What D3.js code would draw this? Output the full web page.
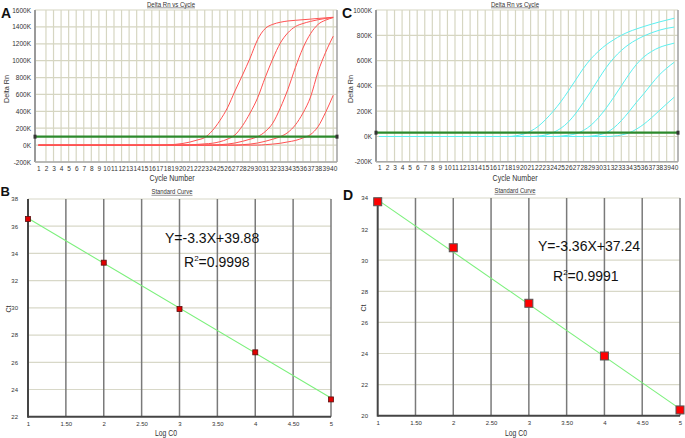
<!DOCTYPE html>
<html><head><meta charset="utf-8">
<script src="https://cdn.jsdelivr.net/npm/d3@7"></script>
<style>body{margin:0;background:#fff}svg{display:block}text{font-family:Arial,"Liberation Sans",sans-serif}</style>
</head><body><svg id="c" width="685" height="438"></svg>
<script>
// ---------- DATA ----------
const cycles = d3.range(1, 41);
const ampA_yTicks = [-200, 0, 200, 400, 600, 800, 1000, 1200, 1400, 1600];
const ampC_yTicks = [-200, 0, 200, 400, 600, 800, 1000];
const ampA_threshold = 100;
const ampC_threshold = 30;
// Panel A: Delta Rn (K) per cycle 1..40
const ampA_s1 = [0,0,0,0,0,0,0,0,0,0,0,0,0,0,0,0,0,3,8,18,35,60,90,170,290,440,640,830,1030,1250,1380,1430,1455,1470,1478,1485,1492,1500,1507,1514];
const ampA_s2 = [0,0,0,0,0,0,0,0,0,0,0,0,0,0,0,0,0,0,0,0,3,8,15,22,40,70,120,230,380,560,800,1020,1208,1330,1404,1440,1465,1485,1500,1512];
const ampA_s3 = [0,0,0,0,0,0,0,0,0,0,0,0,0,0,0,0,0,0,0,0,0,0,0,0,5,12,25,45,70,100,160,260,440,660,920,1150,1320,1430,1480,1510];
const ampA_s4 = [0,0,0,0,0,0,0,0,0,0,0,0,0,0,0,0,0,0,0,0,0,0,0,0,0,0,0,5,12,25,45,70,100,150,240,380,570,870,1100,1290];
const ampA_s5 = [0,0,0,0,0,0,0,0,0,0,0,0,0,0,0,0,0,0,0,0,0,0,0,0,0,0,0,0,0,0,5,12,22,38,55,85,125,220,390,590];
// Panel C
const ampC_s1 = [0,0,0,0,0,0,0,0,0,0,0,0,0,0,0,0,0,0,5,18,42,80,135,200,275,360,450,540,615,675,725,765,800,828,850,870,888,905,920,935];
const ampC_s2 = [0,0,0,0,0,0,0,0,0,0,0,0,0,0,0,0,0,0,0,0,0,3,12,32,65,115,185,270,360,455,545,620,680,728,765,795,820,840,855,865];
const ampC_s3 = [0,0,0,0,0,0,0,0,0,0,0,0,0,0,0,0,0,0,0,0,0,0,0,0,3,10,22,48,90,150,225,310,400,490,570,630,672,703,723,738];
const ampC_s4 = [0,0,0,0,0,0,0,0,0,0,0,0,0,0,0,0,0,0,0,0,0,0,0,0,0,0,0,0,3,12,30,68,125,195,270,340,415,485,540,587];
const ampC_s5 = [0,0,0,0,0,0,0,0,0,0,0,0,0,0,0,0,0,0,0,0,0,0,0,0,0,0,0,0,0,0,0,3,12,28,58,98,148,203,258,311];
// Standard curves
const stdX = [1, 2, 3, 4, 5];
const stdB_ct = [36.53, 33.32, 29.91, 26.73, 23.27];
const stdD_ct = [33.76, 30.80, 27.23, 23.84, 20.37];
const stdB_slope = -3.3, stdB_intercept = 39.88;
const stdD_slope = -3.36, stdD_intercept = 37.24;
const stdXTicks = [1, 1.5, 2, 2.5, 3, 3.5, 4, 4.5, 5];
const stdXTickLabels = ["1", "1.50", "2", "2.50", "3", "3.50", "4", "4.50", "5"];
const stdB_yTicks = [22, 24, 26, 28, 30, 32, 34, 36, 38];
const stdD_yTicks = [20, 22, 24, 26, 28, 30, 32, 34];

const svg = d3.select('#c');
const FONT = 'Arial,"Liberation Sans",sans-serif';

function label(txt, x, y, size, opts = {}) {
  const t = svg.append('text').attr('x', x).attr('y', y).attr('font-size', size)
    .attr('fill', opts.fill || '#222').attr('text-anchor', opts.anchor || 'middle').text(txt);
  if (opts.bold) t.attr('font-weight', 'bold');
  if (opts.len) t.attr('textLength', opts.len).attr('lengthAdjust', 'spacingAndGlyphs');
  if (opts.rotate) t.attr('transform', `rotate(-90,${x},${y})`);
  return t;
}

function amp(cfg) {
  const x = d3.scaleLinear().domain([0.55, 40.5]).range([cfg.l, cfg.r]);
  const y = d3.scaleLinear().domain([cfg.ymin, cfg.ymax]).range([cfg.b, cfg.t]);
  const g = svg.append('g');
  g.selectAll('.h').data(cfg.yTicks).join('line')
    .attr('x1', cfg.l).attr('x2', cfg.r).attr('y1', d => y(d)).attr('y2', d => y(d))
    .attr('stroke', '#d6d6c2').attr('stroke-width', 1.2);
  g.selectAll('.v').data(cycles.slice(1)).join('line')
    .attr('x1', d => x(d)).attr('x2', d => x(d)).attr('y1', cfg.t).attr('y2', cfg.b)
    .attr('stroke', '#d6d6c2').attr('stroke-width', 1.2);
  g.append('line').attr('x1', cfg.l).attr('x2', cfg.l).attr('y1', cfg.t).attr('y2', cfg.b).attr('stroke', '#9a9a9a').attr('stroke-width', 2);
  g.append('line').attr('x1', cfg.r).attr('x2', cfg.r).attr('y1', cfg.t).attr('y2', cfg.b).attr('stroke', '#a0a0a0').attr('stroke-width', 1.5);
  g.append('line').attr('x1', cfg.l).attr('x2', cfg.r).attr('y1', cfg.b).attr('y2', cfg.b).attr('stroke', '#a8a8a8').attr('stroke-width', 1.5);
  const ya = svg.append('g').attr('transform', `translate(${cfg.l - 3},0)`)
    .call(d3.axisLeft(y).tickValues(cfg.yTicks).tickSize(0).tickPadding(1).tickFormat(d => d + 'K'));
  ya.select('.domain').remove();
  ya.selectAll('text').attr('font-size', 6.5).attr('fill', '#333').attr('font-family', FONT);
  const xa = svg.append('g').attr('transform', `translate(0,${cfg.b + 1})`)
    .call(d3.axisBottom(x).tickValues(cycles).tickSize(0).tickPadding(3).tickFormat(d3.format('d')));
  xa.select('.domain').remove();
  xa.selectAll('text').attr('font-size', 6.5).attr('fill', '#333').attr('font-family', FONT);
  const line = d3.line().x((d, i) => x(cycles[i])).y(d => y(d)).curve(d3.curveMonotoneX);
  cfg.series.forEach(s => {
    g.append('path').attr('d', line(s)).attr('fill', 'none').attr('stroke', cfg.color).attr('stroke-width', 1);
  });
  const ty = y(cfg.threshold);
  g.append('line').attr('x1', cfg.l).attr('x2', cfg.r).attr('y1', ty).attr('y2', ty).attr('stroke', '#2d8a2d').attr('stroke-width', 2.2);
  [cfg.l, cfg.r].forEach(px => g.append('rect').attr('x', px - 1.5).attr('y', ty - 2).attr('width', 3).attr('height', 4).attr('fill', '#333'));
  label('Delta Rn vs Cycle', cfg.titleX, 6.5, 6.5, { len: 48, fill: '#333' });
  svg.append('line').attr('x1', cfg.titleX - 24).attr('x2', cfg.titleX + 24).attr('y1', 7.8).attr('y2', 7.8).attr('stroke', '#555').attr('stroke-width', 0.6);
  label('Cycle Number', cfg.xlabX, 181, 9, { len: 45, fill: '#333' });
  label('Delta Rn', cfg.ylabX, 89, 8, { len: 28, fill: '#333', rotate: true });
  label(cfg.letter, cfg.letterX, 17.5, 14, { bold: true, anchor: 'start', fill: '#111' });
}

function std(cfg) {
  const x = d3.scaleLinear().domain([1, 5]).range([cfg.l, cfg.r]);
  const y = d3.scaleLinear().domain([cfg.ymin, cfg.ymax]).range([cfg.b, cfg.t]);
  const g = svg.append('g');
  g.selectAll('.h').data(cfg.yTicks.slice(1)).join('line')
    .attr('x1', cfg.l).attr('x2', cfg.r).attr('y1', d => y(d)).attr('y2', d => y(d))
    .attr('stroke', '#d8d8c8').attr('stroke-width', 1.2);
  g.selectAll('.v').data(stdXTicks.slice(1)).join('line')
    .attr('x1', d => x(d)).attr('x2', d => x(d)).attr('y1', cfg.t).attr('y2', cfg.b)
    .attr('stroke', '#7a7a7a').attr('stroke-width', 1.5);
  g.append('line').attr('x1', cfg.l).attr('x2', cfg.l).attr('y1', cfg.t).attr('y2', cfg.b + 1).attr('stroke', '#454545').attr('stroke-width', 2);
  g.append('line').attr('x1', cfg.l).attr('x2', cfg.r).attr('y1', cfg.b).attr('y2', cfg.b).attr('stroke', '#454545').attr('stroke-width', 2);
  const ya = svg.append('g').attr('transform', `translate(${cfg.yLabRight},0)`)
    .call(d3.axisLeft(y).tickValues(cfg.yTicks).tickSize(0).tickPadding(0));
  ya.select('.domain').remove();
  ya.selectAll('text').attr('font-size', 6).attr('fill', '#333').attr('font-family', FONT);
  const xa = svg.append('g').attr('transform', `translate(0,${cfg.b + 2})`)
    .call(d3.axisBottom(x).tickValues(stdXTicks).tickSize(0).tickPadding(3).tickFormat((d, i) => stdXTickLabels[i]));
  xa.select('.domain').remove();
  xa.selectAll('text').attr('font-size', 6).attr('fill', '#333').attr('font-family', FONT);
  g.append('line').attr('x1', x(1)).attr('x2', x(5))
    .attr('y1', y(cfg.slope * 1 + cfg.intercept)).attr('y2', y(cfg.slope * 5 + cfg.intercept))
    .attr('stroke', '#7cf07c').attr('stroke-width', 1.1);
  const s = cfg.msize;
  g.selectAll('.m').data(stdX).join('rect')
    .attr('x', (d) => x(d) - s / 2).attr('y', (d, i) => y(cfg.ct[i]) - s / 2)
    .attr('width', s).attr('height', s).attr('fill', cfg.mfill).attr('stroke', cfg.mstroke).attr('stroke-width', cfg.msw);
  label('Standard Curve', cfg.titleX, cfg.titleY, 6.5, { len: 41, fill: '#333' });
  svg.append('line').attr('x1', cfg.titleX - 20.5).attr('x2', cfg.titleX + 20.5).attr('y1', cfg.titleY + 1.3).attr('y2', cfg.titleY + 1.3).attr('stroke', '#555').attr('stroke-width', 0.6);
  label('Log C0', cfg.xlabX, 436, 8.5, { len: 22, fill: '#333' });
  label('Ct', cfg.ctX, cfg.ctY, 7, { fill: '#333', rotate: true });
  label(cfg.letter, cfg.letterX, cfg.letterY, cfg.letterSize, { bold: true, anchor: 'start', fill: '#111' });
  label(cfg.eq, cfg.eqX, cfg.eqY, 14, { anchor: 'start', fill: '#111' });
  const r = svg.append('text').attr('x', cfg.rX).attr('y', cfg.rY).attr('font-size', 14).attr('fill', '#111');
  r.append('tspan').text('R');
  r.append('tspan').attr('font-size', 8).attr('dy', -6).text('2');
  r.append('tspan').attr('dy', 6).text(cfg.r2);
}

amp({ l: 35, r: 337, t: 10, b: 162, ymin: -200, ymax: 1600, yTicks: ampA_yTicks,
  series: [ampA_s1, ampA_s2, ampA_s3, ampA_s4, ampA_s5], color: '#ff5252', threshold: ampA_threshold,
  titleX: 171, xlabX: 172, ylabX: 9, letter: 'A', letterX: 1 });
amp({ l: 376, r: 678, t: 10, b: 161.8, ymin: -200, ymax: 1000, yTicks: ampC_yTicks,
  series: [ampC_s1, ampC_s2, ampC_s3, ampC_s4, ampC_s5], color: '#5cf0f0', threshold: ampC_threshold,
  titleX: 515, xlabX: 515, ylabX: 353, letter: 'C', letterX: 342 });

std({ l: 28, r: 331, t: 199, b: 416.7, ymin: 22, ymax: 38, yTicks: stdB_yTicks, ct: stdB_ct,
  slope: stdB_slope, intercept: stdB_intercept, msize: 5, mfill: '#e00000', mstroke: '#5a1010', msw: 0.8,
  yLabRight: 18, titleX: 172, titleY: 194, xlabX: 166, ctX: 11, ctY: 309, letter: 'B', letterX: 0.5, letterY: 196, letterSize: 13,
  eq: 'Y=-3.3X+39.88', eqX: 165, eqY: 243, rX: 184, rY: 267, r2: '=0.9998' });
std({ l: 377.7, r: 680, t: 198, b: 415.7, ymin: 20, ymax: 34, yTicks: stdD_yTicks, ct: stdD_ct,
  slope: stdD_slope, intercept: stdD_intercept, msize: 8, mfill: '#ff0000', mstroke: '#555', msw: 1,
  yLabRight: 368, titleX: 515, titleY: 193, xlabX: 516, ctX: 366, ctY: 308, letter: 'D', letterX: 343, letterY: 200, letterSize: 14,
  eq: 'Y=-3.36X+37.24', eqX: 538, eqY: 251, rX: 553, rY: 281, r2: '=0.9991' });
</script></body></html>
